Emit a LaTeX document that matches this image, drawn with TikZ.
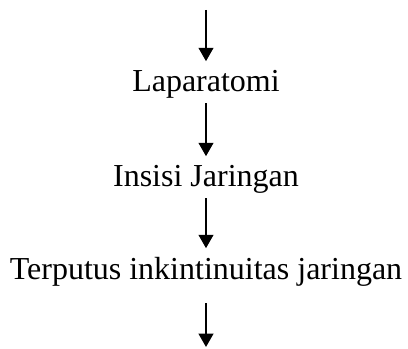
\documentclass[tikz,border=0pt]{standalone}
\usepackage{fontspec}
\setmainfont{Liberation Serif}
\usetikzlibrary{arrows.meta,positioning}
\tikzset{
  stepnode/.style={font=\fontsize{24}{28}\selectfont, inner sep=0pt, anchor=base},
  flow/.style={black, line width=1.5pt, -{Triangle[length=10pt,width=11pt]}}
}

\begin{document}
\begin{tikzpicture}[x=0.75pt,y=-0.75pt]
  \useasboundingbox (0,0) rectangle (408,349);
  % steps
  \node[stepnode] (lap) at (206,92) {Laparatomi};
  \node[stepnode] (ins) at (206,187) {Insisi Jaringan};
  \node[stepnode] (ter) at (206,280) {Terputus inkintinuitas jaringan};
  \coordinate (top) at (206,10);
  \coordinate (bot) at (206,347);
  % arrows
  \draw[flow, shorten >=7pt] (top) -- (lap.north);
  \draw[flow, shorten <=3pt, shorten >=7pt] (lap.south) -- (ins.north);
  \draw[flow, shorten <=3pt, shorten >=7pt] (ins.south) -- (ter.north);
  \draw[flow, shorten <=12pt] (ter.south) -- (bot);
\end{tikzpicture}
\end{document}
